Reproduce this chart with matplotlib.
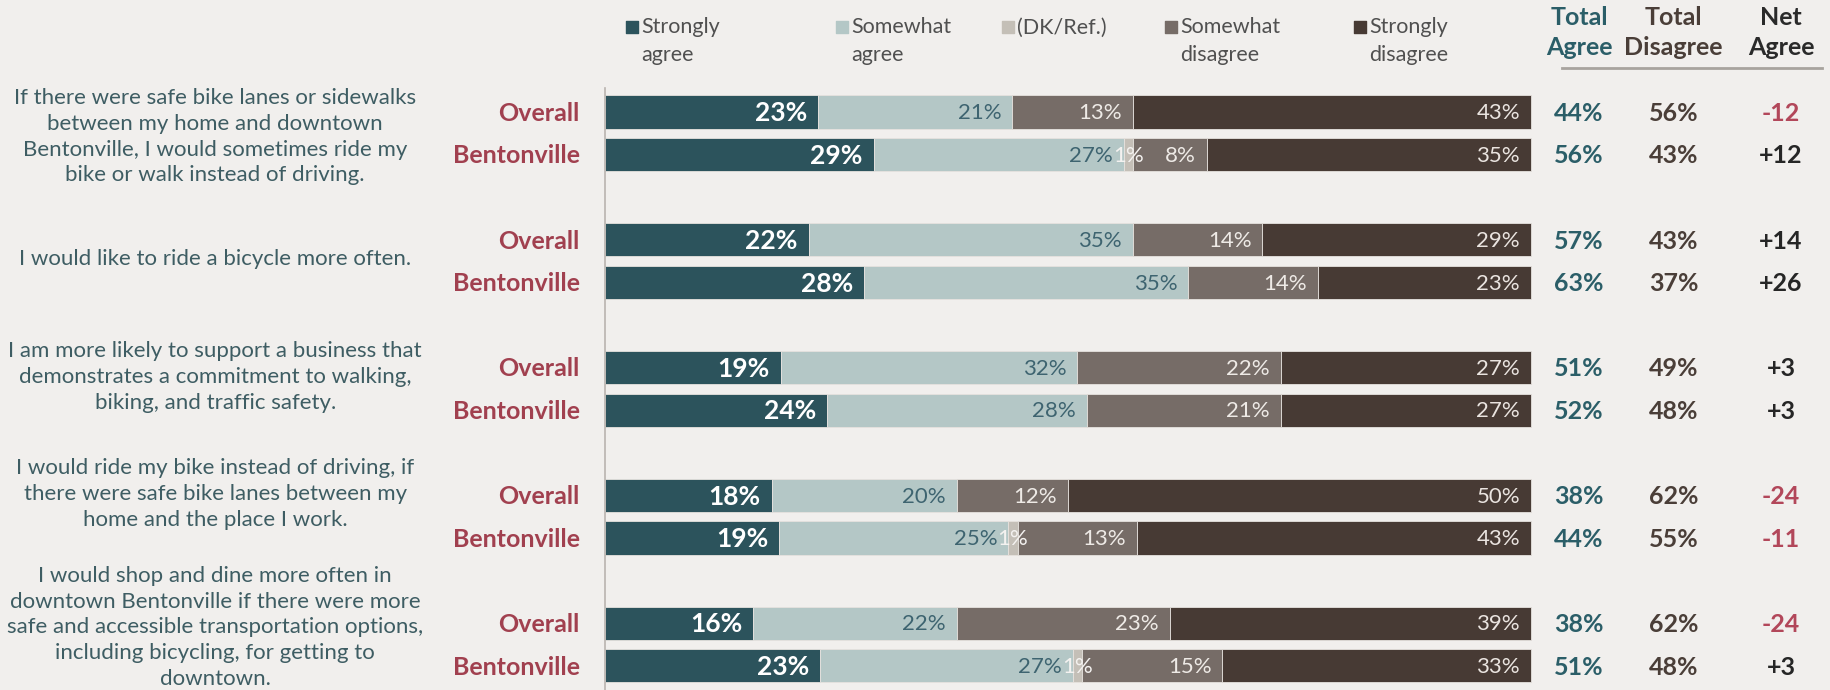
import matplotlib
matplotlib.use('Agg')
import matplotlib.pyplot as plt
import numpy as np

plt.rcParams['font.family'] = ['Lato', 'DejaVu Sans']

# data
questions = [
    'If there were safe bike lanes or sidewalks\nbetween my home and downtown\nBentonville, I would sometimes ride my\nbike or walk instead of driving.',
    'I would like to ride a bicycle more often.',
    'I am more likely to support a business that\ndemonstrates a commitment to walking,\nbiking, and traffic safety.',
    'I would ride my bike instead of driving, if\nthere were safe bike lanes between my\nhome and the place I work.',
    'I would shop and dine more often in\ndowntown Bentonville if there were more\nsafe and accessible transportation options,\nincluding bicycling, for getting to\ndowntown.',
]
groups = ['Overall', 'Bentonville']
categories = ['Strongly\nagree', 'Somewhat\nagree', '(DK/Ref.)', 'Somewhat\ndisagree', 'Strongly\ndisagree']

# rows: Q1 overall, Q1 bentonville, Q2 overall, ...
strongly_agree    = [23, 29, 22, 28, 19, 24, 18, 19, 16, 23]
somewhat_agree    = [21, 27, 35, 35, 32, 28, 20, 25, 22, 27]
dk_ref            = [0, 1, 0, 0, 0, 0, 0, 1, 0, 1]
somewhat_disagree = [13, 8, 14, 14, 22, 21, 12, 13, 23, 15]
strongly_disagree = [43, 35, 29, 23, 27, 27, 50, 43, 39, 33]

total_agree    = [44, 56, 57, 63, 51, 52, 38, 44, 38, 51]
total_disagree = [56, 43, 43, 37, 49, 48, 62, 55, 62, 48]
net_agree      = [-12, 12, 14, 26, 3, 3, -24, -11, -24, 3]

# styling
bg = '#F1EFED'
colors = ['#2C535C', '#B4C7C6', '#C4BFB7', '#766C67', '#473A34']
label_colors = ['white', '#3E6470', '#F4F2F0', '#EEEAE6', '#EAE4E0']
teal_text = '#3E5D63'
maroon = '#A1404F'
agree_col = '#2B5E68'
disagree_col = '#4A3E38'
net_pos = '#262626'
net_neg = '#B2475A'
text_dy = [0.08, -0.05, -0.28, -0.53, -0.4]

W, H = 1831, 690
fig = plt.figure(figsize=(W / 100, H / 100), dpi=100, facecolor=bg)
ax = fig.add_axes([0, 0, 1, 1])
ax.set_facecolor(bg)
ax.axis('off')

# x: 0..100 % spans pixels 605..1531 ; y: row units of 42.6 px, row 0 at 112 px
px_per_pct = 926 / 100
x0 = 605
ax.set_xlim(-x0 / px_per_pct, (W - x0) / px_per_pct)
row_px = 42.6
ax.set_ylim((H - 112) / row_px, -112 / row_px)

vals = np.array([strongly_agree, somewhat_agree, dk_ref, somewhat_disagree, strongly_disagree], dtype=float)
rows = np.array([g * 3 + r for g in range(len(questions)) for r in range(2)], dtype=float)
shares = vals / vals.sum(axis=0) * 100
lefts = np.vstack([np.zeros(vals.shape[1]), np.cumsum(shares, axis=0)[:-1]])

pad = 11 / px_per_pct
for k in range(5):
    ax.barh(rows, shares[k], left=lefts[k], height=0.78, color=colors[k],
            edgecolor='#E6E2DE', linewidth=0.6)
    for i, y in enumerate(rows):
        v = vals[k, i]
        if v == 0:
            continue
        txt = '%d%%' % v
        if k == 2:
            ax.text(lefts[k, i] + shares[k, i] / 2, y + 0.03, txt, ha='center', va='center',
                    fontsize=16, color=label_colors[k])
        else:
            ax.text(lefts[k, i] + shares[k, i] - pad, y + 0.03, txt, ha='right', va='center',
                    fontsize=19 if k == 0 else 16, fontweight='bold' if k == 0 else 'normal',
                    color=label_colors[k])

# axis line
ax.plot([0, 0], [-0.57, rows[-1] + 0.6], color='#B9B4AF', lw=1.2)

# left labels
for i, y in enumerate(rows):
    ax.text(-2.7, y + 0.03, groups[i % 2], ha='right', va='center', fontsize=18,
            fontweight='bold', color=maroon)
for g, q in enumerate(questions):
    ax.text(-42.1, g * 3 + 0.5 + text_dy[g], q, ha='center', va='center', fontsize=16,
            color=teal_text, linespacing=1.36)

# right columns
xa, xd, xn = 105.2, 115.4, 127.0
for i, y in enumerate(rows):
    ax.text(xa, y + 0.03, '%d%%' % total_agree[i], ha='center', va='center', fontsize=18,
            fontweight='bold', color=agree_col)
    ax.text(xd, y + 0.03, '%d%%' % total_disagree[i], ha='center', va='center', fontsize=18,
            fontweight='bold', color=disagree_col)
    n = net_agree[i]
    ax.text(xn, y + 0.03, '%+d' % n, ha='center', va='center', fontsize=18,
            fontweight='bold', color=net_neg if n < 0 else net_pos)

hy1 = (18 - 112) / row_px
hy2 = (48 - 112) / row_px
for x, t1, t2, c in [(xa, 'Total', 'Agree', agree_col), (xd, 'Total', 'Disagree', disagree_col),
                     (xn, 'Net', 'Agree', '#2A2A2A')]:
    ax.text(x, hy1, t1, ha='center', va='center', fontsize=18, fontweight='bold', color=c)
    ax.text(x, hy2, t2, ha='center', va='center', fontsize=18, fontweight='bold', color=c)
ly = (68 - 112) / row_px
ax.plot([(1562 - x0) / px_per_pct, (1822 - x0) / px_per_pct], [ly, ly], color='#A8A39E', lw=2)

# legend
leg_x = [632, 842, 1008, 1171, 1360]
ly1 = (27.5 - 112) / row_px
ly2 = (55.5 - 112) / row_px
for k, name in enumerate(categories):
    xl = (leg_x[k] - x0) / px_per_pct
    ax.scatter([xl], [ly1], marker='s', s=80, color=colors[k], clip_on=False)
    lines = name.split('\n')
    ax.text(xl + 1.0, ly1, lines[0], ha='left', va='center', fontsize=15.5, color='#505050')
    if len(lines) > 1:
        ax.text(xl + 1.0, ly2, lines[1], ha='left', va='center', fontsize=15.5, color='#505050')

fig.savefig('out.png', dpi=100, facecolor=bg)
